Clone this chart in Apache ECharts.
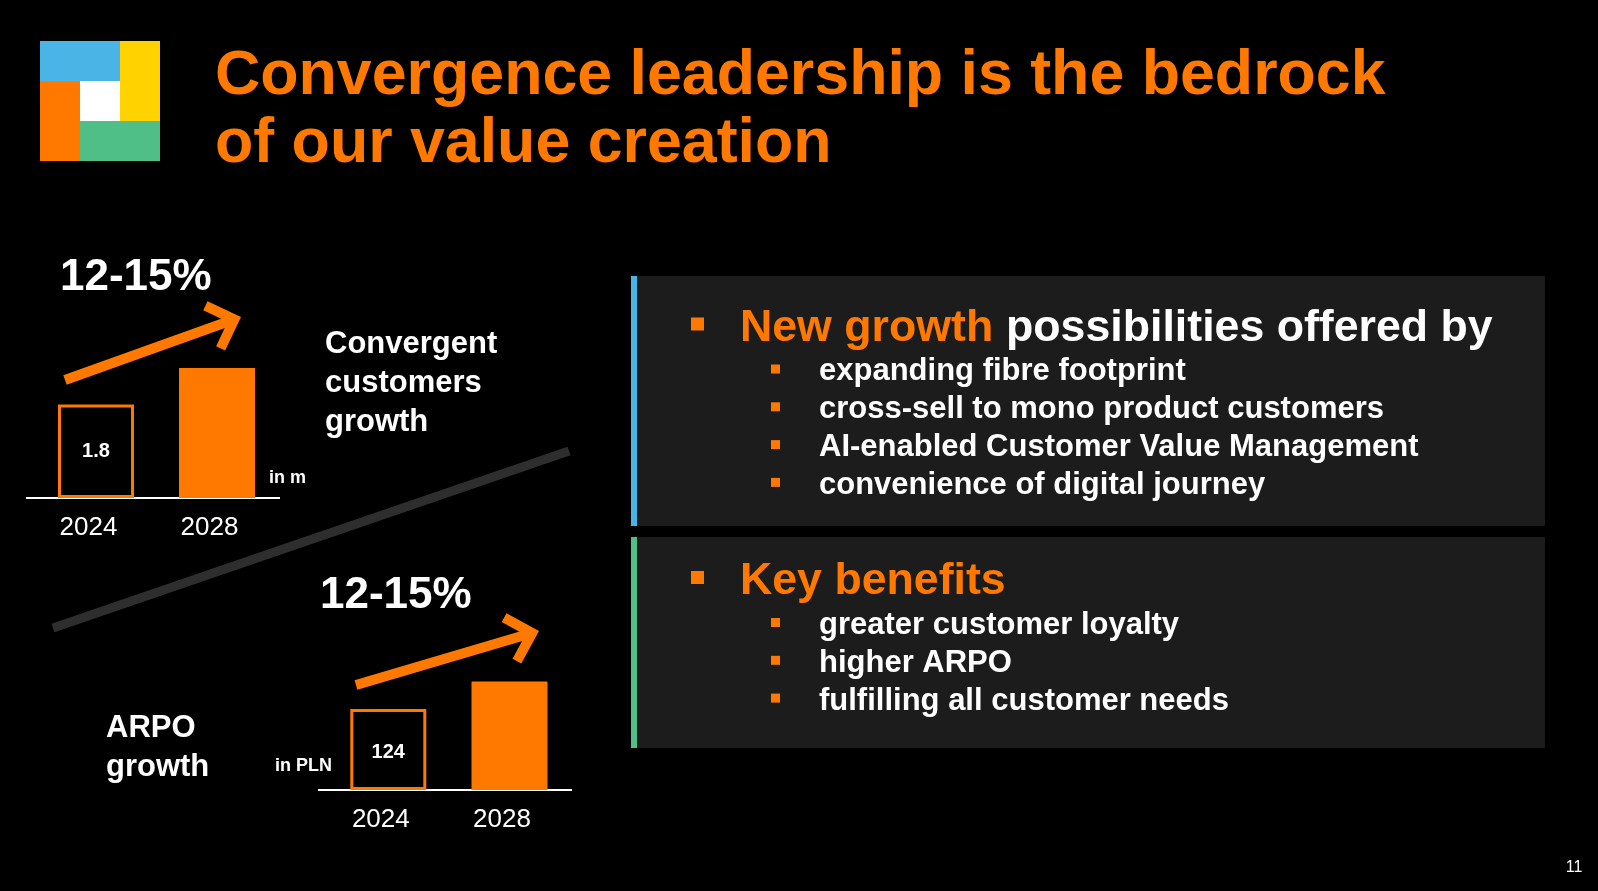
<!DOCTYPE html>
<html>
<head>
<meta charset="utf-8">
<style>
  html, body { margin: 0; padding: 0; background: #000; }
  #chart { width: 1598px; height: 891px; }
</style>
<script src="https://cdn.jsdelivr.net/npm/echarts@6/dist/echarts.min.js"></script>
</head>
<body>
<div id="chart"></div>
<script>
// ---- Data ----
const categories = ['2024', '2028'];
const customersValues = [1.8, 2.5];      // in m
const arpoValues = [124, 166];           // in PLN
const growthLabel = '12-15%';
const titleLines = ['Convergence leadership is the bedrock', 'of our value creation'];
const customersTitle = ['Convergent', 'customers', 'growth'];
const arpoTitle = ['ARPO', 'growth'];
const panel1Heading = ['New growth', 'possibilities offered by'];
const panel1Items = ['expanding fibre footprint', 'cross-sell to mono product customers', 'AI-enabled Customer Value Management', 'convenience of digital journey'];
const panel2Heading = 'Key benefits';
const panel2Items = ['greater customer loyalty', 'higher ARPO', 'fulfilling all customer needs'];
const pageNumber = '11';

// ---- Styles ----
const ORANGE = '#FF7900';
const WHITE = '#FFFFFF';
const FONT = '"Liberation Sans", Arial, Helvetica, sans-serif';

const chart = echarts.init(document.getElementById('chart'), null, { renderer: 'canvas' });

function barData(values, labelDy) {
  return values.map((v, i) => i === 0
    ? { value: v, itemStyle: { color: 'rgba(0,0,0,0)', borderColor: ORANGE, borderWidth: 3 },
        label: { show: true, position: 'inside', offset: [0, labelDy], color: WHITE, fontSize: 20, fontWeight: 'bold', fontFamily: FONT } }
    : { value: v, itemStyle: { color: ORANGE }, label: { show: false } });
}

function text(str, x, y, size, color, bold, align) {
  return {
    type: 'text', z: 10,
    style: {
      text: str, x: x, y: y + size * 0.095, fill: color,
      font: (bold ? 'bold ' : '') + size + 'px ' + FONT,
      align: align || 'left', verticalAlign: 'middle',
      textAlign: align || 'left', textVerticalAlign: 'middle'
    }
  };
}
function rect(x, y, w, h, color) {
  return { type: 'rect', z: 1, shape: { x: x, y: y, width: w, height: h }, style: { fill: color } };
}
function arrow(x1, y1, x2, y2, w, armLen) {
  const dx = x2 - x1, dy = y2 - y1, len = Math.sqrt(dx * dx + dy * dy);
  const ux = dx / len, uy = dy / len;
  const miter = (w / 2) / Math.sin(Math.PI / 4);
  const tx = x2 - ux * miter, ty = y2 - uy * miter;
  const c = Math.cos(Math.PI / 4), s = Math.sin(Math.PI / 4);
  const bx = -ux, by = -uy;
  const a1 = [tx + armLen * (bx * c - by * s), ty + armLen * (bx * s + by * c)];
  const a2 = [tx + armLen * (bx * c + by * s), ty + armLen * (-bx * s + by * c)];
  return [
    { type: 'line', z: 5, shape: { x1: x1, y1: y1, x2: tx - ux * 2, y2: ty - uy * 2 }, style: { stroke: ORANGE, lineWidth: w, lineCap: 'butt' } },
    { type: 'polyline', z: 5, shape: { points: [a1, [tx, ty], a2] }, style: { stroke: ORANGE, lineWidth: w, lineJoin: 'miter', lineCap: 'butt', fill: null } }
  ];
}

const graphics = [];
// Logo
graphics.push(rect(40, 41, 80, 40, '#4BB4E6'));
graphics.push(rect(120, 41, 40, 80, '#FFD200'));
graphics.push(rect(40, 81, 40, 80, ORANGE));
graphics.push(rect(80, 81, 40, 40, '#FFFFFF'));
graphics.push(rect(80, 121, 80, 40, '#50BE87'));
// Title
graphics.push(text(titleLines[0], 215, 71, 62.7, ORANGE, true));
graphics.push(text(titleLines[1], 215, 139, 62.7, ORANGE, true));
// Diagonal separator
graphics.push({ type: 'line', z: 0, shape: { x1: 53, y1: 628, x2: 569, y2: 451 }, style: { stroke: '#2e2e2e', lineWidth: 9 } });
// Baseline extensions (axis lines in the slide run a bit past the bar bands)
graphics.push({ type: 'line', z: 0, shape: { x1: 26, y1: 498, x2: 280, y2: 498 }, style: { stroke: WHITE, lineWidth: 2 } });
graphics.push({ type: 'line', z: 0, shape: { x1: 318, y1: 790, x2: 572, y2: 790 }, style: { stroke: WHITE, lineWidth: 2 } });
// Growth labels & arrows
graphics.push(text(growthLabel, 60, 274, 44, WHITE, true));
graphics.push(text(growthLabel, 320, 592, 44, WHITE, true));
arrow(65, 380, 241, 317, 10, 32).forEach(g => graphics.push(g));
arrow(356, 685, 539, 631, 10, 32).forEach(g => graphics.push(g));
// Side titles
customersTitle.forEach((t, i) => graphics.push(text(t, 325, 342 + i * 38.7, 31, WHITE, true)));
arpoTitle.forEach((t, i) => graphics.push(text(t, 106, 726 + i * 38.7, 31, WHITE, true)));
graphics.push(text('in m', 269, 476, 18, WHITE, true));
graphics.push(text('in PLN', 275, 764, 18, WHITE, true));
// Panels
graphics.push(rect(631, 276, 914, 250, '#1c1c1c'));
graphics.push(rect(631, 276, 6, 250, '#4BB4E6'));
graphics.push(rect(631, 537, 914, 211, '#1c1c1c'));
graphics.push(rect(631, 537, 6, 211, '#50BE87'));
// Panel 1 content
graphics.push(rect(691, 317.5, 13, 13, ORANGE));
graphics.push(text(panel1Heading[0], 740, 324, 44.7, ORANGE, true));
graphics.push(text(panel1Heading[1], 1006, 324, 44.7, WHITE, true));
panel1Items.forEach((t, i) => {
  const y = 369 + i * 37.8;
  graphics.push(rect(771, y - 4.5, 9, 9, ORANGE));
  graphics.push(text(t, 819, y, 31, WHITE, true));
});
// Panel 2 content
graphics.push(rect(691, 571, 13, 13, ORANGE));
graphics.push(text(panel2Heading, 740, 577, 44.7, ORANGE, true));
panel2Items.forEach((t, i) => {
  const y = 622.5 + i * 37.8;
  graphics.push(rect(771, y - 4.5, 9, 9, ORANGE));
  graphics.push(text(t, 819, y, 31, WHITE, true));
});
// Page number
graphics.push(text(pageNumber, 1574, 866, 16, WHITE, false, 'center'));

function xAxisFor(idx) {
  return {
    gridIndex: idx, type: 'category', data: categories,
    axisLine: { lineStyle: { color: WHITE, width: 2 } },
    axisTick: { show: false },
    axisLabel: { color: WHITE, fontSize: 26, fontFamily: FONT, margin: 17, padding: [0, 15, 0, 0] }
  };
}

const option = {
  backgroundColor: '#000000',
  animation: false,
  grid: [
    { left: 35.5, top: 342, width: 242, height: 156 },
    { left: 327.7, top: 659.4, width: 242.4, height: 130.6 }
  ],
  xAxis: [xAxisFor(0), xAxisFor(1)],
  yAxis: [
    { type: 'value', gridIndex: 0, min: 0, max: 3, show: false, splitLine: { show: false } },
    { type: 'value', gridIndex: 1, min: 0, max: 200, show: false, splitLine: { show: false } }
  ],
  series: [
    { type: 'bar', xAxisIndex: 0, yAxisIndex: 0, barWidth: 76, data: barData(customersValues, 0), z: 2 },
    { type: 'bar', xAxisIndex: 1, yAxisIndex: 1, barWidth: 76, data: barData(arpoValues, 3), z: 2 }
  ],
  graphic: { elements: graphics }
};
chart.setOption(option);
</script>
</body>
</html>
